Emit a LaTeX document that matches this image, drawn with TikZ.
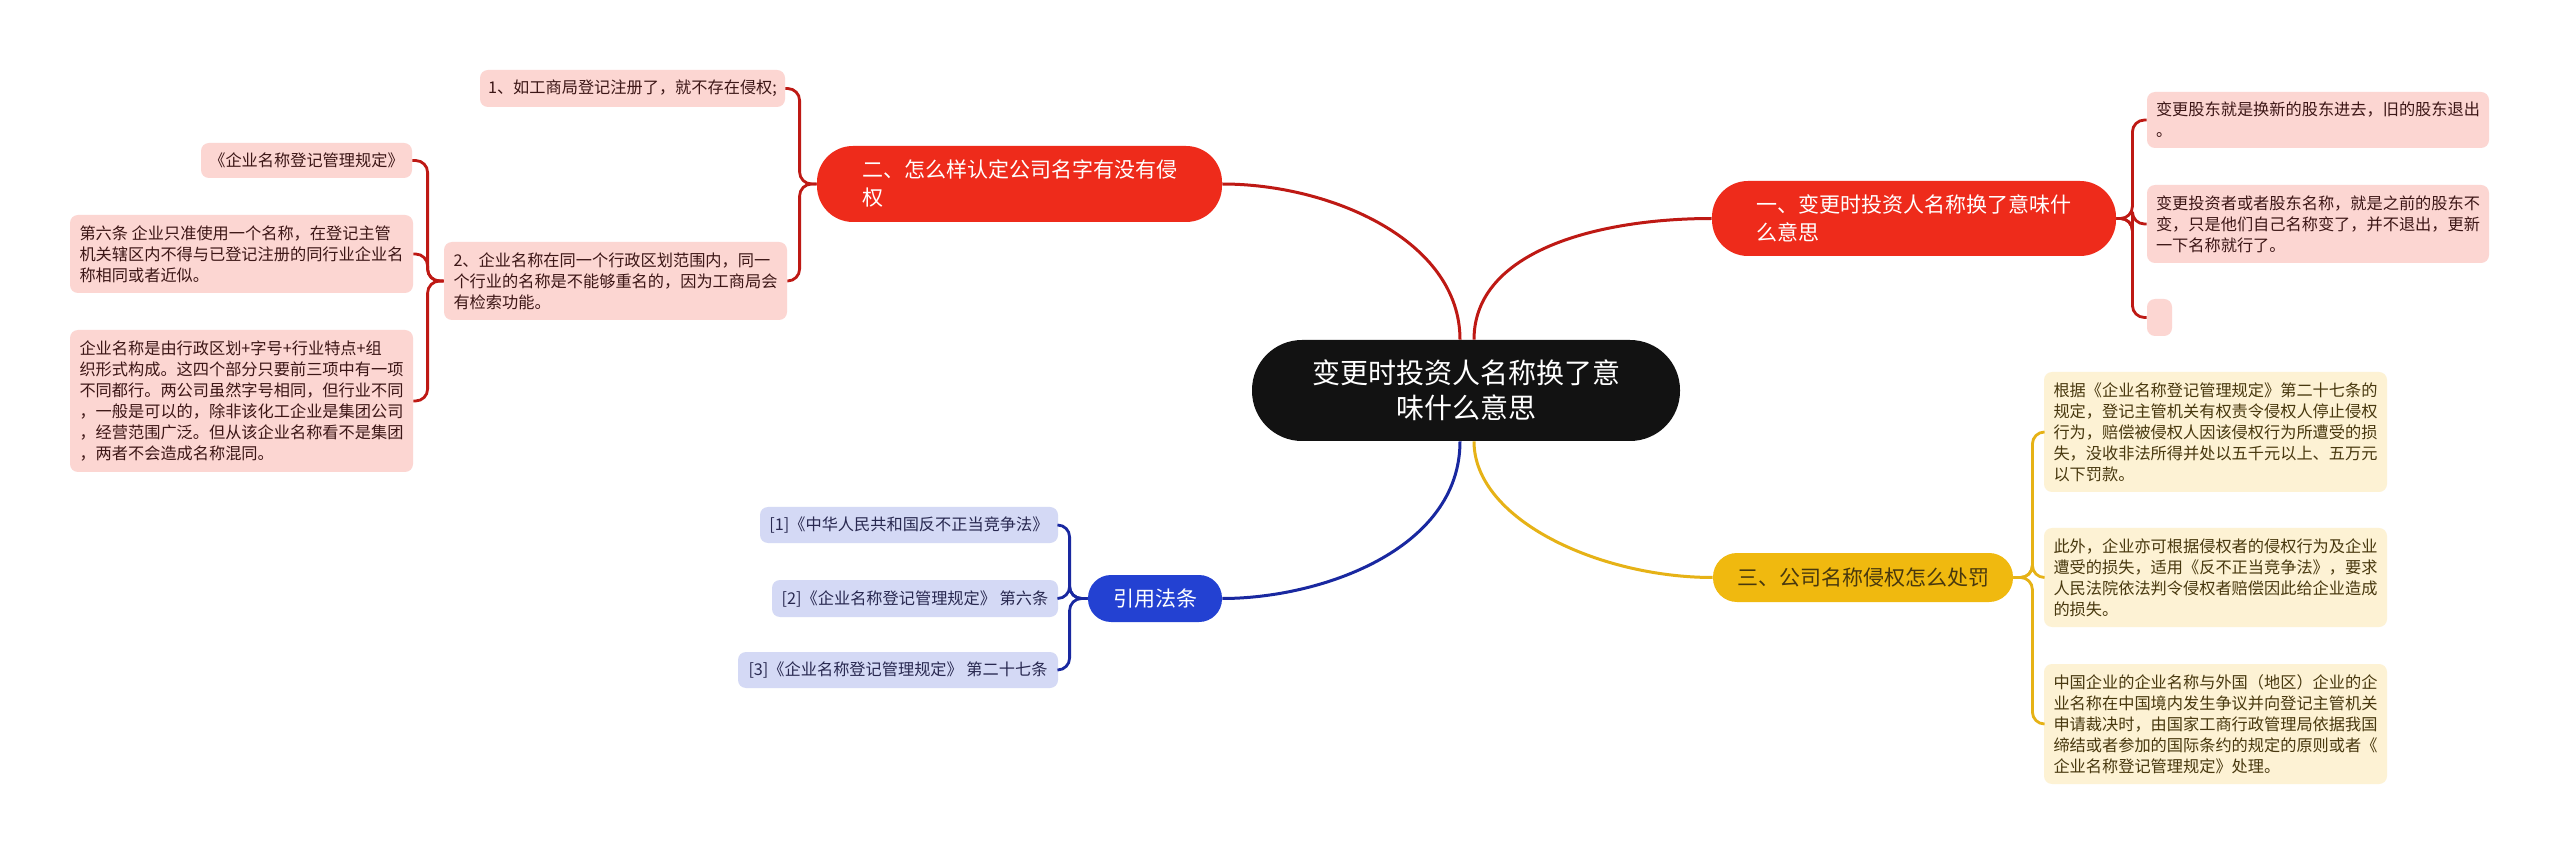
\documentclass[tikz,border=0pt]{standalone}
\usepackage{fontspec}
\setmainfont{Noto Sans CJK SC}
\definecolor{rootc}{RGB}{18,18,18}
\definecolor{redc}{RGB}{238,43,27}
\definecolor{redl}{RGB}{190,25,20}
\definecolor{pinkc}{RGB}{252,214,210}
\definecolor{pinkt}{RGB}{60,22,22}
\definecolor{yelc}{RGB}{240,185,15}
\definecolor{yell}{RGB}{230,178,22}
\definecolor{creamc}{RGB}{253,242,212}
\definecolor{yelt}{RGB}{72,56,14}
\definecolor{bluec}{RGB}{35,65,210}
\definecolor{bluel}{RGB}{25,40,160}
\definecolor{lavc}{RGB}{212,217,245}
\definecolor{bluet}{RGB}{40,40,80}
\tikzset{
  pill/.style={inner sep=0pt, align=left, font=\fontsize{10.5pt}{14pt}\selectfont},
  leaf/.style={rounded corners=4pt, inner sep=0pt, align=left, font=\fontsize{8.1pt}{10.5pt}\selectfont},
  redleaf/.style={leaf, fill=pinkc, text=pinkt},
  yelleaf/.style={leaf, fill=creamc, text=yelt},
  blueleaf/.style={leaf, fill=lavc, text=bluet},
  redlink/.style={draw=redl, line width=1.4pt, rounded corners=6pt},
  yellink/.style={draw=yell, line width=1.4pt, rounded corners=6pt},
  bluelink/.style={draw=bluel, line width=1.4pt, rounded corners=6pt},
}
\begin{document}
\begin{tikzpicture}[x=0.5pt,y=-0.5pt]
\useasboundingbox[fill=white] (0,0) rectangle (2560,855);
% centre
\node[fill=rootc, text=white, rounded corners=25pt, minimum width=214pt, minimum height=50.5pt, inner sep=0pt, align=center, font=\fontsize{14pt}{17.5pt}\selectfont] (root) at (1466,390.5) {变更时投资人名称换了意\\味什么意思};
% branches
\node[pill, fill=redc, text=white, rounded corners=18pt, minimum width=202pt, minimum height=37.5pt] (br1) at (1914,218.5) {一、变更时投资人名称换了意味什\\么意思};
\node[pill, fill=redc, text=white, rounded corners=18pt, minimum width=202.5pt, minimum height=38pt] (br2) at (1019.5,184) {二、怎么样认定公司名字有没有侵\\权};
\node[pill, fill=yelc, text=yelt, rounded corners=12pt, minimum width=150pt, minimum height=24.5pt] (br3) at (1863,577.5) {三、公司名称侵权怎么处罚};
\node[pill, fill=bluec, text=white, rounded corners=11.5pt, minimum width=67pt, minimum height=23.5pt] (br4) at (1155,598.5) {引用法条};
% leaves of br1
\node[redleaf, minimum width=171pt, minimum height=28pt] (a1) at (2318,120) {变更股东就是换新的股东进去，旧的股东退出\\。};
\node[redleaf, minimum width=171pt, minimum height=39pt] (a2) at (2318,224) {变更投资者或者股东名称，就是之前的股东不\\变，只是他们自己名称变了，并不退出，更新\\一下名称就行了。};
\node[redleaf, minimum width=12.5pt, minimum height=18.5pt] (a3) at (2159.5,317.5) {};
% leaves of br3
\node[yelleaf, minimum width=171.5pt, minimum height=60pt] (y1) at (2215.5,432) {根据《企业名称登记管理规定》第二十七条的\\规定，登记主管机关有权责令侵权人停止侵权\\行为，赔偿被侵权人因该侵权行为所遭受的损\\失，没收非法所得并处以五千元以上、五万元\\以下罚款。};
\node[yelleaf, minimum width=171.5pt, minimum height=49.5pt] (y2) at (2215.5,577.5) {此外，企业亦可根据侵权者的侵权行为及企业\\遭受的损失，适用《反不正当竞争法》，要求\\人民法院依法判令侵权者赔偿因此给企业造成\\的损失。};
\node[yelleaf, minimum width=171.5pt, minimum height=60pt] (y3) at (2215.5,724) {中国企业的企业名称与外国（地区）企业的企\\业名称在中国境内发生争议并向登记主管机关\\申请裁决时，由国家工商行政管理局依据我国\\缔结或者参加的国际条约的规定的原则或者《\\企业名称登记管理规定》处理。};
% leaves of br2
\node[redleaf, minimum width=152.5pt, minimum height=18.5pt] (c1) at (632.5,88.5) {1、如工商局登记注册了，就不存在侵权;};
\node[redleaf, minimum width=171.5pt, minimum height=39pt] (c2) at (615.5,281) {2、企业名称在同一个行政区划范围内，同一\\个行业的名称是不能够重名的，因为工商局会\\有检索功能。};
\node[redleaf, minimum width=105.5pt, minimum height=17.5pt] (d1) at (306.5,160.5) {《企业名称登记管理规定》};
\node[redleaf, minimum width=171.5pt, minimum height=39pt] (d2) at (241.5,254) {第六条 企业只准使用一个名称，在登记主管\\机关辖区内不得与已登记注册的同行业企业名\\称相同或者近似。};
\node[redleaf, minimum width=171.5pt, minimum height=71pt] (d3) at (241.5,401) {企业名称是由行政区划+字号+行业特点+组\\织形式构成。这四个部分只要前三项中有一项\\不同都行。两公司虽然字号相同，但行业不同\\，一般是可以的，除非该化工企业是集团公司\\，经营范围广泛。但从该企业名称看不是集团\\，两者不会造成名称混同。};
% leaves of br4
\node[blueleaf, minimum width=149pt, minimum height=18pt] (e1) at (909,525) {[1]《中华人民共和国反不正当竞争法》};
\node[blueleaf, minimum width=143pt, minimum height=18.5pt] (e2) at (915,598.5) {[2]《企业名称登记管理规定》 第六条};
\node[blueleaf, minimum width=160pt, minimum height=18pt] (e3) at (898,670) {[3]《企业名称登记管理规定》 第二十七条};
% centre to branches
\draw[redl, line width=1.5pt] ([xshift=-3pt]root.north) .. controls (1460,240) and (1330,184) .. (br2.east);
\draw[redl, line width=1.5pt] ([xshift=4pt]root.north) .. controls (1474,250) and (1600,218.5) .. (br1.west);
\draw[bluel, line width=1.5pt] ([xshift=-3pt]root.south) .. controls (1460,550) and (1320,598.5) .. (br4.east);
\draw[yell, line width=1.5pt] ([xshift=4pt]root.south) .. controls (1474,520) and (1600,577.5) .. (br3.west);
% brackets
\draw[redlink] (br1.east) -- ++(16,0) |- (a1.west);
\draw[redlink] (br1.east) -- ++(16,0) |- (a2.west);
\draw[redlink] (br1.east) -- ++(16,0) |- (a3.west);
\draw[yellink] (br3.east) -- ++(19,0) |- (y1.west);
\draw[yellink] (br3.east) -- ++(19,0) |- (y2.west);
\draw[yellink] (br3.east) -- ++(19,0) |- (y3.west);
\draw[redlink] (br2.west) -- ++(-17,0) |- (c1.east);
\draw[redlink] (br2.west) -- ++(-17,0) |- (c2.east);
\draw[redlink] (c2.west) -- ++(-16,0) |- (d1.east);
\draw[redlink] (c2.west) -- ++(-16,0) |- (d2.east);
\draw[redlink] (c2.west) -- ++(-16,0) |- (d3.east);
\draw[bluelink] (br4.west) -- ++(-18,0) |- (e1.east);
\draw[bluelink] (br4.west) -- ++(-18,0) |- (e2.east);
\draw[bluelink] (br4.west) -- ++(-18,0) |- (e3.east);
\end{tikzpicture}
\end{document}
